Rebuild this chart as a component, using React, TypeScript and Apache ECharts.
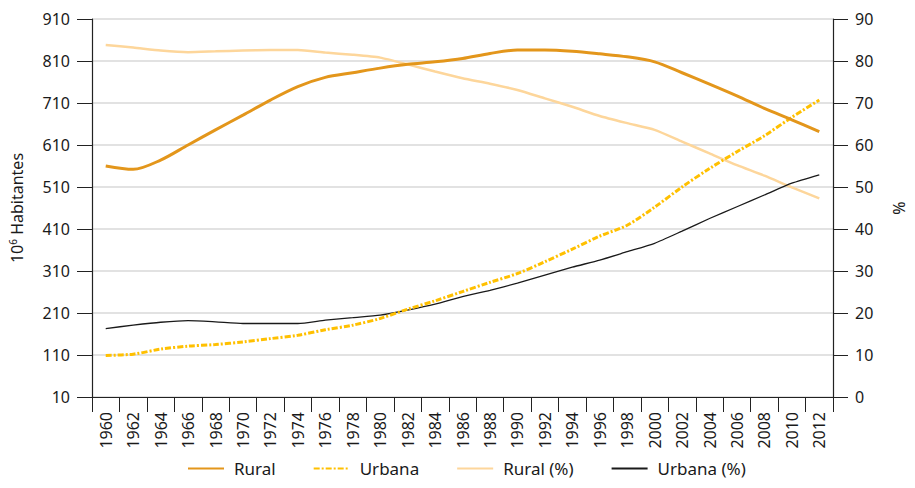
import React, { useEffect, useRef } from "react";
import * as echarts from "echarts";

const years = [
  "1960", "1962", "1964", "1966", "1968", "1970", "1972", "1974", "1976", "1978",
  "1980", "1982", "1984", "1986", "1988", "1990", "1992", "1994", "1996", "1998",
  "2000", "2002", "2004", "2006", "2008", "2010", "2012",
];

const rural = [
  560, 552, 574, 610, 646, 681, 717, 749, 771, 782,
  793, 802, 808, 816, 828, 836, 836, 833, 827, 820,
  808, 782, 755, 727, 697, 670, 642,
];

const urbana = [
  109, 112, 124, 131, 135, 141, 149, 157, 170, 181,
  197, 219, 239, 261, 283, 304, 332, 362, 393, 419,
  462, 510, 554, 594, 632, 676, 717,
];

const ruralPct = [
  83.8, 83.2, 82.5, 82.1, 82.3, 82.5, 82.6, 82.6, 82.0, 81.5,
  80.8, 79.2, 77.5, 75.9, 74.6, 73.1, 71.1, 69.1, 66.9, 65.2,
  63.6, 60.8, 58.0, 55.2, 52.7, 49.9, 47.3,
];

const urbanaPct = [
  16.3, 17.1, 17.8, 18.2, 17.9, 17.5, 17.5, 17.5, 18.3, 18.9,
  19.5, 20.7, 22.1, 23.9, 25.4, 27.1, 29.0, 30.9, 32.6, 34.6,
  36.6, 39.5, 42.5, 45.3, 48.1, 50.9, 52.9,
];

const FONT = "'Noto Sans', 'Open Sans', sans-serif";
const TXT = "#1a1a1a";

export default function App() {
  const ref = useRef<HTMLDivElement>(null);
  useEffect(() => {
    if (!ref.current) return;
    const chart = echarts.init(ref.current, undefined, { renderer: "svg" });
    chart.setOption({
      animation: false,
      textStyle: { fontFamily: FONT },
      grid: { left: 90, right: 68, top: 19, bottom: 91, containLabel: false },
      legend: {
        bottom: 6,
        left: 182,
        itemWidth: 36,
        itemHeight: 10,
        itemGap: 37,
        itemStyle: { opacity: 0 },
        textStyle: { fontSize: 17, color: TXT, fontFamily: FONT, padding: [0, 0, 0, 5] },
        data: ["Rural", "Urbana", "Rural (%)", "Urbana (%)"],
      },
      xAxis: {
        type: "category",
        data: years,
        boundaryGap: true,
        axisLine: { lineStyle: { color: "#222", width: 1.2 } },
        axisTick: { show: true, length: 15, lineStyle: { color: "#222" }, alignWithLabel: false },
        axisLabel: { rotate: 90, fontSize: 16, color: TXT, margin: 15, interval: 0 },
      },
      yAxis: [
        {
          type: "value",
          min: 10,
          max: 910,
          interval: 100,
          name: "10{sup|6} Habitantes",
          nameLocation: "middle",
          nameGap: 66,
          nameRotate: 90,
          nameTextStyle: {
            fontSize: 16,
            color: TXT,
            rich: { sup: { fontSize: 10, verticalAlign: "top", padding: [0, 0, 8, 0], color: TXT } },
          },
          axisLine: { show: true, lineStyle: { color: "#222", width: 1.2 } },
          axisTick: { show: true, length: 15, lineStyle: { color: "#222" } },
          axisLabel: { fontSize: 16, color: TXT, margin: 22 },
          splitLine: { show: true, lineStyle: { color: "#d9d9d9", width: 1.5 } },
        },
        {
          type: "value",
          min: 0,
          max: 90,
          interval: 10,
          name: "%",
          nameLocation: "middle",
          nameGap: 58,
          nameRotate: 90,
          nameTextStyle: { fontSize: 16, color: TXT },
          axisLine: { show: true, lineStyle: { color: "#222", width: 1.2 } },
          axisTick: { show: true, length: 15, lineStyle: { color: "#222" } },
          axisLabel: { fontSize: 16, color: TXT, margin: 22 },
          splitLine: { show: false },
        },
      ],
      series: [
        {
          name: "Rural (%)",
          type: "line",
          yAxisIndex: 1,
          data: ruralPct,
          symbol: "none",
          smooth: 0.2,
          lineStyle: { color: "#fdd69b", width: 2.5 },
          itemStyle: { color: "#fdd69b" },
        },
        {
          name: "Urbana (%)",
          type: "line",
          yAxisIndex: 1,
          data: urbanaPct,
          symbol: "none",
          smooth: 0.2,
          lineStyle: { color: "#1a1a1a", width: 1.3 },
          itemStyle: { color: "#1a1a1a" },
        },
        {
          name: "Urbana",
          type: "line",
          yAxisIndex: 0,
          data: urbana,
          symbol: "none",
          smooth: 0.3,
          lineStyle: { color: "#ffc000", width: 3, type: [6, 2, 2, 2] },
          itemStyle: { color: "#ffc000" },
        },
        {
          name: "Rural",
          type: "line",
          yAxisIndex: 0,
          data: rural,
          symbol: "none",
          smooth: 0.3,
          lineStyle: { color: "#e3961b", width: 3 },
          itemStyle: { color: "#e3961b" },
        },
      ],
    });
    return () => chart.dispose();
  }, []);
  return <div ref={ref} style={{ width: 915, height: 488, position: "absolute", left: 0, top: 0 }} />;
}
